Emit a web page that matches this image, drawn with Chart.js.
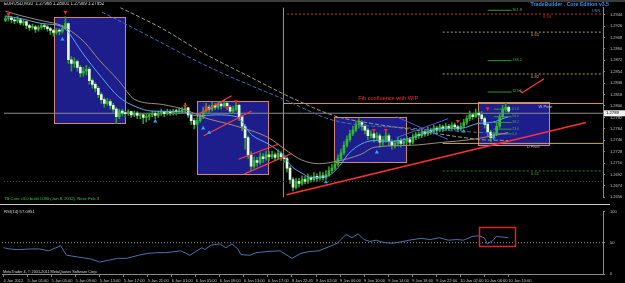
<!DOCTYPE html>
<html>
<head>
<meta charset="utf-8">
<script src="https://cdn.jsdelivr.net/npm/chart.js@4.4.1/dist/chart.umd.min.js"></script>
<style>
  html, body { margin: 0; padding: 0; background: #000; overflow: hidden; }
  #wrap { position: relative; width: 625px; height: 283px; background: #000; }
  #main { position: absolute; left: 0; top: 0; }
  #rsi { position: absolute; left: 0; top: 204px; }
  #sep { position: absolute; left: 0; top: 204px; width: 610px; height: 1px; background: #c8c8c8; }
  #topbar { position: absolute; left: 0; top: 0; width: 625px; height: 2px; background: #3c3c3c; }
</style>
</head>
<body>
<div id="wrap">
  <canvas id="main" width="625" height="205"></canvas>
  <canvas id="rsi" width="625" height="79"></canvas>
  <div id="sep"></div>
  <div id="topbar"></div>
</div>
<script>
// EURUSD M30 candles, one per bar index
const firstOpen = 1.2935;
const closes = [
  1.2938,1.2939,1.2936,1.2934,1.2936,1.2931,1.2933,1.2927,1.2924,1.2925,
  1.2921,1.2924,1.2927,1.2925,1.2922,1.2919,1.2916,1.2919,1.2918,1.2922,
  1.2930,1.2873,1.2867,1.2870,1.2861,1.2852,1.2855,1.2858,1.2840,1.2834,
  1.2828,1.2818,1.2810,1.2804,1.2807,1.2801,1.2795,1.2783,1.2792,1.2789,
  1.2788,1.2791,1.2786,1.2789,1.2785,1.2786,1.2782,1.2783,1.2786,1.2788,
  1.2785,1.2789,1.2791,1.2788,1.2791,1.2789,1.2792,1.2791,1.2792,1.2794,
  1.2797,1.2786,1.2777,1.2771,1.2777,1.2783,1.2792,1.2798,1.2795,1.2801,
  1.2798,1.2803,1.2800,1.2804,1.2798,1.2792,1.2795,1.2801,1.2783,1.2768,
  1.2750,1.2723,1.2705,1.2714,1.2711,1.2720,1.2717,1.2723,1.2720,1.2723,
  1.2719,1.2725,1.2720,1.2717,1.2702,1.2684,1.2672,1.2681,1.2678,1.2684,
  1.2681,1.2687,1.2684,1.2689,1.2686,1.2690,1.2687,1.2692,1.2698,1.2702,
  1.2708,1.2717,1.2726,1.2738,1.2747,1.2756,1.2762,1.2770,1.2774,1.2768,
  1.2762,1.2753,1.2756,1.2750,1.2753,1.2743,1.2747,1.2753,1.2744,1.2738,
  1.2741,1.2746,1.2741,1.2744,1.2747,1.2743,1.2750,1.2755,1.2753,1.2759,
  1.2756,1.2762,1.2759,1.2765,1.2762,1.2767,1.2764,1.2768,1.2765,1.2770,
  1.2767,1.2764,1.2768,1.2774,1.2780,1.2786,1.2783,1.2789,1.2786,1.2780,
  1.2771,1.2759,1.2750,1.2756,1.2768,1.2783,1.2795,1.2798,1.2792
];
const highs = [
  1.2942,1.2944,1.2942,1.2939,1.2941,1.2938,1.2936,1.2934,1.2929,1.2929,
  1.2927,1.2927,1.2930,1.2930,1.2927,1.2924,1.2921,1.2922,1.2922,1.2927,
  1.2941,1.2931,1.2878,1.2876,1.2873,1.2864,1.2861,1.2864,1.2861,1.2843,
  1.2837,1.2831,1.2821,1.2813,1.2812,1.2810,1.2804,1.2798,1.2795,1.2795,
  1.2792,1.2794,1.2792,1.2792,1.2791,1.2789,1.2788,1.2788,1.2789,1.2792,
  1.2791,1.2792,1.2795,1.2792,1.2795,1.2794,1.2795,1.2795,1.2797,1.2798,
  1.2804,1.2798,1.2789,1.2780,1.2782,1.2789,1.2798,1.2804,1.2801,1.2806,
  1.2804,1.2807,1.2806,1.2809,1.2806,1.2801,1.2800,1.2807,1.2803,1.2786,
  1.2771,1.2753,1.2728,1.2720,1.2719,1.2726,1.2725,1.2729,1.2728,1.2729,
  1.2726,1.2731,1.2728,1.2723,1.2720,1.2705,1.2687,1.2686,1.2686,1.2690,
  1.2689,1.2693,1.2690,1.2695,1.2693,1.2696,1.2695,1.2698,1.2704,1.2708,
  1.2714,1.2723,1.2732,1.2744,1.2753,1.2762,1.2768,1.2776,1.2780,1.2777,
  1.2771,1.2765,1.2761,1.2759,1.2758,1.2756,1.2752,1.2759,1.2756,1.2747,
  1.2746,1.2750,1.2749,1.2749,1.2752,1.2750,1.2756,1.2759,1.2759,1.2764,
  1.2762,1.2767,1.2765,1.2770,1.2768,1.2771,1.2770,1.2773,1.2771,1.2774,
  1.2773,1.2770,1.2773,1.2779,1.2785,1.2792,1.2789,1.2795,1.2792,1.2791,
  1.2783,1.2774,1.2762,1.2759,1.2774,1.2789,1.2801,1.2804,1.2800
];
const lows = [
  1.2933,1.2934,1.2931,1.2930,1.2931,1.2928,1.2927,1.2922,1.2919,1.2921,
  1.2916,1.2918,1.2921,1.2921,1.2918,1.2913,1.2910,1.2913,1.2912,1.2915,
  1.2921,1.2867,1.2855,1.2861,1.2855,1.2846,1.2847,1.2849,1.2834,1.2828,
  1.2822,1.2813,1.2804,1.2798,1.2801,1.2795,1.2790,1.2772,1.2780,1.2785,
  1.2782,1.2785,1.2782,1.2783,1.2780,1.2780,1.2772,1.2775,1.2778,1.2783,
  1.2780,1.2782,1.2785,1.2783,1.2786,1.2785,1.2786,1.2786,1.2788,1.2789,
  1.2790,1.2782,1.2771,1.2764,1.2768,1.2774,1.2780,1.2789,1.2790,1.2792,
  1.2794,1.2795,1.2795,1.2798,1.2794,1.2788,1.2789,1.2792,1.2777,1.2761,
  1.2732,1.2717,1.2698,1.2702,1.2705,1.2708,1.2711,1.2714,1.2714,1.2717,
  1.2714,1.2716,1.2714,1.2711,1.2696,1.2678,1.2666,1.2669,1.2672,1.2675,
  1.2677,1.2678,1.2680,1.2681,1.2681,1.2683,1.2683,1.2684,1.2689,1.2695,
  1.2699,1.2705,1.2714,1.2723,1.2735,1.2744,1.2753,1.2759,1.2765,1.2762,
  1.2756,1.2747,1.2749,1.2743,1.2746,1.2735,1.2738,1.2743,1.2738,1.2732,
  1.2734,1.2737,1.2735,1.2738,1.2740,1.2738,1.2740,1.2747,1.2749,1.2750,
  1.2752,1.2753,1.2755,1.2756,1.2758,1.2759,1.2759,1.2761,1.2761,1.2762,
  1.2762,1.2759,1.2761,1.2765,1.2771,1.2777,1.2779,1.2782,1.2782,1.2776,
  1.2765,1.2753,1.2744,1.2747,1.2753,1.2765,1.2780,1.2791,1.2788
];

// moving averages as [bar, price]
const maFast = [[0,1.2942],[5.5,1.29375],[12.2,1.2930],[18.8,1.29255],[21.2,1.2915],[25.5,1.2885],[32.2,1.28445],[37.8,1.28145],[43.2,1.27995],[48.8,1.2792],[59.8,1.27905],[63.8,1.27845],[70.5,1.2786],[77.2,1.2783],[82.2,1.27545],[87.8,1.2740],[92.2,1.27245],[95.5,1.2705],[98.8,1.26945],[102.2,1.2687],[107.8,1.2690],[112.2,1.27095],[114.5,1.27245],[118.8,1.2740],[123.2,1.27455],[128.8,1.2744],[135.5,1.2750],[146.5,1.2765],[152.2,1.2765],[157.8,1.27725],[162.2,1.2774],[167.8,1.2783]];
const maSlow = [[0,1.29495],[5.5,1.2942],[12.2,1.29345],[18.8,1.2927],[20.5,1.29225],[26.5,1.2900],[31.2,1.2873],[37.8,1.2840],[43.2,1.2810],[52.2,1.28025],[61.2,1.2792],[65.5,1.2783],[76.5,1.2769],[87.8,1.2750],[94.5,1.27275],[98.8,1.2715],[104.5,1.2709],[109.8,1.2712],[118.8,1.2724],[123.2,1.2735],[135.5,1.2738],[145.5,1.27425],[155.5,1.2747],[167.8,1.2758]];
const maLongTan = [[38.2,1.29555],[52.2,1.29225],[65.5,1.2885],[82.2,1.28445],[95.5,1.2813],[109.8,1.27845],[122.2,1.27725],[135.5,1.2763],[148.8,1.2753],[158.8,1.2747],[167.8,1.27455]];
const maLongBlue = [[32.2,1.2948],[39.8,1.2930],[68.8,1.28595],[93.2,1.2810],[109.8,1.2777],[135.5,1.2765],[155.5,1.2759],[167.8,1.2756]];

// signal arrows
const sellBars = [1, 20, 60, 67, 74, 77, 123, 127, 151, 161];
const sellPrices = [1.2945, 1.2948, 1.2800, 1.2798, 1.2798, 1.2807, 1.2762, 1.2762, 1.2776, 1.2796];
const buyBars = [19, 50, 66, 68, 107, 124, 153, 163];
const buyPrices = [1.2905, 1.2776, 1.2765, 1.2758, 1.2680, 1.2727, 1.2760, 1.2751];

// drawn objects
const redLines = [
  [[64.2,1.2786],[75.5,1.2816]],
  [[66.2,1.2753],[82.2,1.2792]],
  [[77.8,1.2716],[91.2,1.2740]],
  [[79.8,1.2693],[95.5,1.2725]],
  [[171.5,1.2825],[172.5,1.2821],[179.8,1.2843]]
];
const supportLine = [[93.8,1.2660],[193.8,1.2774]];
const blueLines = [
  [[130.5,1.2783],[147.8,1.2747]],
  [[130.5,1.2750],[147.8,1.2780]]
];
const boxes = [
  { from: 16.2, to: 39.8, top: 1.29405, bottom: 1.27725 },
  { from: 63.8, to: 87.8, top: 1.28085, bottom: 1.2693 },
  { from: 109.8, to: 133.8, top: 1.2783, bottom: 1.2711 },
  { from: 157.8, to: 181.5, top: 1.28055, bottom: 1.2738 }
];
const weekStartBar = 92.8;

// horizontal levels
const bidPrice = 1.27885;
const redLevel = 1.2945;
const weeklyPivot = 1.2804;
const dailyPivot = 1.2741;
const fibLevels = [1.29165, 1.28505];
const fibNames = ['0.65', '0.82'];
const extLevels = [1.2951, 1.28715, 1.2822];
const extNames = ['161.8', '138.2', '123.6'];
const innerLevels = [1.2795, 1.2783, 1.2774, 1.27635, 1.2756];
const innerNames = ['61.8', '50.0', '38.2', '23.6', '0.0'];
const supportLevel = 1.26975;
const lowLevel = 1.2681;

// axes
const priceTicks = [1.2944,1.2926,1.2908,1.2890,1.2872,1.2854,1.2836,1.2818,1.2800,1.2782,1.2764,1.2746,1.2728,1.2710,1.2692,1.2674,1.2656];
const timeLabels = ['4 Jan 2012','5 Jan 01:00','5 Jan 05:00','5 Jan 09:00','5 Jan 13:00','5 Jan 17:00','5 Jan 21:00','6 Jan 01:00','6 Jan 05:00','6 Jan 09:00','6 Jan 13:00','6 Jan 17:00','8 Jan 22:45','9 Jan 02:00','9 Jan 06:00','9 Jan 10:00','9 Jan 14:00','9 Jan 18:00','9 Jan 22:00','10 Jan 02:00','10 Jan 06:00','10 Jan 10:00'];

// RSI(14)
const rsiBars = [0,2,5,9,12,15,19,21,25,29,32,35,38,41,45,48,51,54,59,62,64,66,67,69,72,74,76,78,79,82,84,88,92,96,99,102,105,109,111,114,116,118,120,122,124,126,129,132,135,139,142,145,148,151,153,156,158,160,161,163,164,168];
const rsiValues = [42,40,39,40,40,37,45,30,27,24,19,22,25,25,30,33,34,34,37,30,36,42,39,46,48,42,48,40,31,30,34,36,37,25,33,36,37,45,49,63,58,64,55,52,54,51,49,51,54,57,55,58,54,55,54,60,61,58,48,54,60,58];
const rsiTicks = [0, 50, 100];
const rsiBox = { from: 158.2, to: 170.2, top: 74.6, bottom: 44.8 };

const X_MIN = -0.5, X_MAX = 199.5;
const Y_MIN = 1.26555, Y_MAX = 1.29555;
const FONT = 'Liberation Sans, Arial, sans-serif';

const pts = (arr) => arr.map(([x, y]) => ({ x, y }));
const opens = closes.map((c, i) => (i === 0 ? firstOpen : closes[i - 1]));

const lineDs = (data, color, extra) => Object.assign({
  type: 'line', data, borderColor: color, borderWidth: 1, pointRadius: 0, fill: false, order: 2
}, extra || {});
const levelDs = (price, from, to, color, dash) =>
  lineDs([{ x: from, y: price }, { x: to, y: price }], color, { borderDash: dash || [], order: 6 });

const datasets = [];
// arrows on top
datasets.push({
  type: 'line', showLine: false, order: 0,
  data: sellBars.map((b, k) => ({ x: b, y: sellPrices[k] })),
  pointStyle: 'triangle', pointRotation: 180, pointRadius: 2.4,
  pointBackgroundColor: '#ff2020', pointBorderWidth: 0
});
datasets.push({
  type: 'line', showLine: false, order: 0,
  data: buyBars.map((b, k) => ({ x: b, y: buyPrices[k] })),
  pointStyle: 'triangle', pointRadius: 2.4,
  pointBackgroundColor: '#2aa8ff', pointBorderWidth: 0
});
redLines.forEach(l => datasets.push(lineDs(pts(l), '#ff3a3a', { order: 1, borderWidth: 1.2 })));
datasets.push(lineDs(pts(supportLine), '#ff3030', { order: 1, borderWidth: 1.6 }));
blueLines.forEach(l => datasets.push(lineDs(pts(l), '#4a5ee0', { order: 1 })));
datasets.push(lineDs(pts(maFast), '#5aa8f0', { cubicInterpolationMode: 'monotone' }));
datasets.push(lineDs(pts(maSlow), '#9c8f78', { cubicInterpolationMode: 'monotone' }));
datasets.push(lineDs(pts(maLongTan), '#a09a80', { borderDash: [4, 2], cubicInterpolationMode: 'monotone' }));
datasets.push(lineDs(pts(maLongBlue), '#3f6fb0', { borderDash: [4, 2], cubicInterpolationMode: 'monotone' }));
// candles
datasets.push({
  type: 'bar', order: 4, grouped: false, barThickness: 2, minBarLength: 1,
  data: closes.map((c, i) => ({ x: i, y: [opens[i], c] })),
  backgroundColor: closes.map((c, i) => (c >= opens[i] ? '#34b834' : '#e4f6e4'))
});
datasets.push({
  type: 'bar', order: 5, grouped: false, barThickness: 1,
  data: closes.map((c, i) => ({ x: i, y: [lows[i], highs[i]] })),
  backgroundColor: '#2c9c2c'
});
// levels
datasets.push(levelDs(bidPrice, X_MIN, X_MAX, '#8c8c8c'));
datasets.push(levelDs(redLevel, 94, X_MAX, '#c83030', [2, 2]));
datasets.push(levelDs(weeklyPivot, weekStartBar, X_MAX, '#d0a070'));
datasets.push(levelDs(dailyPivot, 146, X_MAX, '#c8a878'));
fibLevels.forEach(p => datasets.push(levelDs(p, 146, X_MAX, '#b89868', [2, 2])));
extLevels.forEach(p => datasets.push(levelDs(p, 161, 169, '#2f9a2f')));
innerLevels.forEach(p => datasets.push(levelDs(p, 163, 169, '#2f9a2f')));
datasets.push(levelDs(supportLevel, 146, X_MAX, '#2f8a2f', [2, 2]));
datasets.push(levelDs(lowLevel, X_MIN, X_MAX, '#2c5a2c', [1, 2]));
datasets.push(lineDs([{ x: weekStartBar, y: Y_MIN }, { x: weekStartBar, y: Y_MAX }], '#e0874e', { order: 6 }));

const text = (ctx, s, x, y, color, size, align, weight) => {
  ctx.font = (weight || 'normal') + ' ' + size + 'px ' + FONT;
  ctx.fillStyle = color;
  ctx.textAlign = align || 'left';
  ctx.textBaseline = 'top';
  ctx.fillText(s, x, y);
};

const mainOverlay = {
  id: 'mainOverlay',
  beforeDatasetsDraw(chart) {
    const { ctx, scales: { x, y } } = chart;
    ctx.save();
    boxes.forEach(b => {
      const l = Math.round(x.getPixelForValue(b.from)) + 0.5;
      const r = Math.round(x.getPixelForValue(b.to)) + 0.5;
      const t = Math.round(y.getPixelForValue(b.top)) + 0.5;
      const bt = Math.round(y.getPixelForValue(b.bottom)) + 0.5;
      ctx.fillStyle = '#1d1d8c';
      ctx.fillRect(l, t, r - l, bt - t);
      ctx.strokeStyle = '#d4866a';
      ctx.lineWidth = 1;
      ctx.strokeRect(l, t, r - l, bt - t);
    });
    ctx.restore();
  },
  afterDraw(chart) {
    const { ctx, scales: { x, y } } = chart;
    ctx.save();
    text(ctx, 'EURUSD,M30  1.27968 1.28001 1.27909 1.27952', 4, 2, '#d8d8d8', 4.5);
    text(ctx, 'TB Core v3.0 build 1080 (Jan 8, 2012)  Next: Feb 3', 4, 197, '#3cc83c', 4.2);
    text(ctx, 'TradeBuilder . Core Edition v3.5', 609, 2, '#3a8ee8', 5.2, 'right', 'bold');
    text(ctx, 'DNN', 600, 9, '#3a8ee8', 3.6, 'right');
    text(ctx, 'Fib confluence with W/P', x.getPixelForValue(117.8), y.getPixelForValue(1.2816), '#ff2a2a', 5.6);
    text(ctx, '0.93', x.getPixelForValue(179.5), y.getPixelForValue(redLevel) + 0.5, '#e03030', 4);
    fibLevels.forEach((p, k) => text(ctx, fibNames[k], x.getPixelForValue(175.5), y.getPixelForValue(p) + 0.5, '#d0a060', 4));
    extLevels.forEach((p, k) => text(ctx, extNames[k], x.getPixelForValue(169.2), y.getPixelForValue(p) - 2.5, '#3cb83c', 3.8));
    innerLevels.forEach((p, k) => text(ctx, innerNames[k], x.getPixelForValue(169.2), y.getPixelForValue(p) - 2, '#3cb83c', 3.4));
    text(ctx, '0.61', x.getPixelForValue(175.5), y.getPixelForValue(supportLevel) + 0.5, '#3cb83c', 4);
    text(ctx, 'W Pivot', x.getPixelForValue(178), y.getPixelForValue(weeklyPivot) + 1, '#c8c8c8', 4);
    text(ctx, 'D Pivot', x.getPixelForValue(174), y.getPixelForValue(dailyPivot) + 1, '#d0b080', 4);
    // current bid marker on the price axis
    const by = y.getPixelForValue(bidPrice);
    ctx.fillStyle = '#f0f0f0';
    ctx.fillRect(604, by - 3, 21, 6);
    text(ctx, bidPrice.toFixed(4), 606, by - 2.3, '#000', 4.2);
    ctx.restore();
  }
};

new Chart(document.getElementById('main'), {
  type: 'bar',
  data: { datasets },
  options: {
    responsive: false,
    animation: false,
    devicePixelRatio: 1,
    layout: { padding: { left: 2, top: 3, right: 0, bottom: 2 } },
    plugins: { legend: { display: false }, tooltip: { enabled: false } },
    scales: {
      x: { type: 'linear', min: X_MIN, max: X_MAX, display: false, offset: false },
      y: {
        type: 'linear', position: 'right', min: Y_MIN, max: Y_MAX,
        afterFit: s => { s.width = 22; },
        afterBuildTicks: s => { s.ticks = priceTicks.map(v => ({ value: v })); },
        ticks: { autoSkip: false, font: { size: 4, family: FONT }, color: '#c0c0c0', padding: 5, callback: v => v.toFixed(4) },
        grid: { drawOnChartArea: false, tickLength: 2, color: '#8a8a8a' },
        border: { color: '#8a8a8a' }
      }
    }
  },
  plugins: [mainOverlay]
});

const rsiOverlay = {
  id: 'rsiOverlay',
  afterDraw(chart) {
    const { ctx, scales: { x, y } } = chart;
    ctx.save();
    text(ctx, 'RSI(14) 57.0951', 4, 6, '#d8d8d8', 4.2);
    text(ctx, 'MetaTrader 4, \u00a9 2001-2011 MetaQuotes Software Corp.', 3, 66, '#d8d8d8', 3.8);
    const l = Math.round(x.getPixelForValue(rsiBox.from)) + 0.5;
    const r = Math.round(x.getPixelForValue(rsiBox.to)) + 0.5;
    const t = Math.round(y.getPixelForValue(rsiBox.top)) + 0.5;
    const b = Math.round(y.getPixelForValue(rsiBox.bottom)) + 0.5;
    ctx.strokeStyle = '#e02424';
    ctx.lineWidth = 1.5;
    ctx.strokeRect(l, t, r - l, b - t);
    ctx.restore();
  }
};

new Chart(document.getElementById('rsi'), {
  type: 'line',
  data: {
    datasets: [
      {
        data: rsiBars.map((b, k) => ({ x: b, y: rsiValues[k] })),
        borderColor: '#4d72ad', borderWidth: 1, pointRadius: 0, tension: 0
      },
      {
        data: [{ x: X_MIN, y: 50 }, { x: X_MAX, y: 50 }],
        borderColor: '#9a9a9a', borderWidth: 1, borderDash: [1, 2], pointRadius: 0
      }
    ]
  },
  options: {
    responsive: false,
    animation: false,
    devicePixelRatio: 1,
    layout: { padding: { left: 2, top: 3, right: 0, bottom: 0 } },
    plugins: { legend: { display: false }, tooltip: { enabled: false } },
    scales: {
      x: {
        type: 'linear', min: X_MIN, max: X_MAX,
        afterFit: s => { s.height = 9; },
        afterBuildTicks: s => { s.ticks = timeLabels.map((_, k) => ({ value: k * 8 })); },
        ticks: {
          autoSkip: false, maxRotation: 0, align: 'start', padding: 1,
          font: { size: 4, family: FONT }, color: '#c0c0c0',
          callback: v => timeLabels[Math.round(v / 8)]
        },
        grid: { drawOnChartArea: false, tickLength: 3, color: '#8a8a8a' },
        border: { color: '#8a8a8a' }
      },
      y: {
        type: 'linear', position: 'right', min: 0, max: 100,
        afterFit: s => { s.width = 22; },
        afterBuildTicks: s => { s.ticks = rsiTicks.map(v => ({ value: v })); },
        ticks: { autoSkip: false, font: { size: 4, family: FONT }, color: '#c0c0c0', padding: 5 },
        grid: { drawOnChartArea: false, tickLength: 2, color: '#8a8a8a' },
        border: { color: '#8a8a8a' }
      }
    }
  },
  plugins: [rsiOverlay]
});
</script>
</body>
</html>
